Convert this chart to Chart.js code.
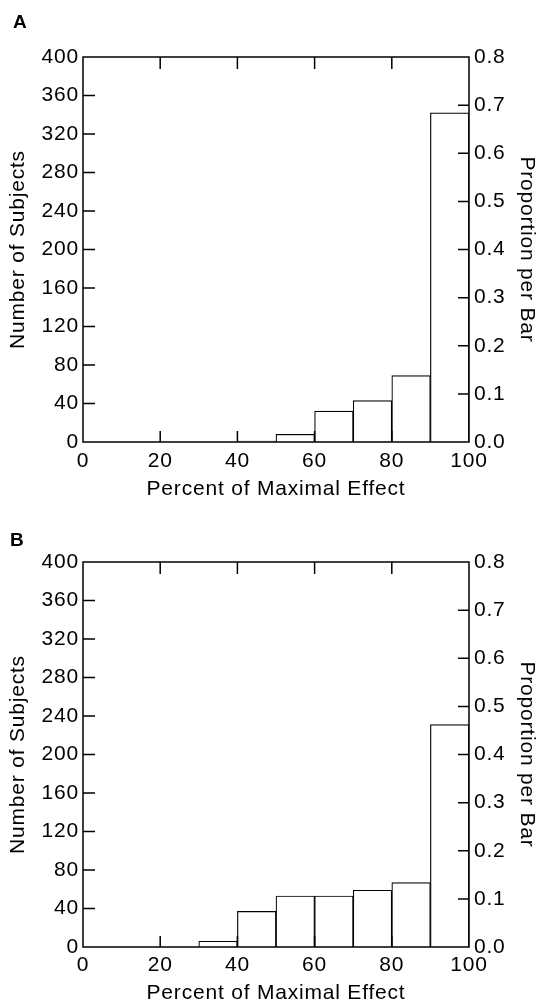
<!DOCTYPE html>
<html>
<head>
<meta charset="utf-8">
<title>Percent of Maximal Effect</title>
<script src="https://cdn.jsdelivr.net/npm/chart.js@4.4.1/dist/chart.umd.min.js"></script>
<style>
  html, body { margin: 0; padding: 0; background: #fff; }
  body { width: 537px; height: 1005px; position: relative; overflow: hidden; font-family: 'Liberation Sans', Arial, sans-serif; }
  .panel { position: absolute; left: 0; width: 537px; }
  .tag { position: absolute; font-weight: bold; font-size: 19px; line-height: 1; color: #000; }
</style>
</head>
<body>
<div class="panel" style="top:0;height:500px"><canvas id="chartA" width="537" height="500"></canvas></div>
<div class="panel" style="top:500px;height:505px"><canvas id="chartB" width="537" height="505"></canvas></div>
<div class="tag" style="left:13px;top:12px">A</div>
<div class="tag" style="left:10px;top:530px">B</div>
<script>
// histogram bins, 10% wide, given by their centres
const binCenters = [5, 15, 25, 35, 45, 55, 65, 75, 85, 95];
const subjectsA = [0, 0, 0, 0, 1, 8, 32, 43, 69, 342];
const subjectsB = [0, 0, 0, 6, 37, 53, 53, 59, 67, 231];

const percentTicks = [0, 20, 40, 60, 80, 100];
const countTicks = [0, 40, 80, 120, 160, 200, 240, 280, 320, 360, 400];
const proportionTicks = [0, 0.1, 0.2, 0.3, 0.4, 0.5, 0.6, 0.7, 0.8];

const FONT = { family: "'Liberation Sans', Arial, sans-serif", size: 21, lineHeight: 1.2 };
const TITLE_FONT = { family: "'Liberation Sans', Arial, sans-serif", size: 21, lineHeight: 1 };

// frame + ticks pointing into the plot, like the original
const frameTicks = {
  id: 'frameTicks',
  beforeDraw(chart) {
    chart.ctx.letterSpacing = '0.8px';
  },
  afterDatasetsDraw(chart) {
    const { ctx, chartArea: a, scales } = chart;
    ctx.save();
    ctx.strokeStyle = '#000';
    ctx.lineWidth = 1.5;
    ctx.beginPath();
    scales.x.ticks.forEach(t => {
      if (t.value <= 0 || t.value >= 100) return;
      const px = scales.x.getPixelForValue(t.value);
      ctx.moveTo(px, a.top); ctx.lineTo(px, a.top + 12);
      ctx.moveTo(px, a.bottom); ctx.lineTo(px, a.bottom - 11);
    });
    scales.y.ticks.forEach(t => {
      if (t.value <= 0 || t.value >= 400) return;
      const py = scales.y.getPixelForValue(t.value);
      ctx.moveTo(a.left, py); ctx.lineTo(a.left + 12, py);
    });
    scales.y1.ticks.forEach(t => {
      if (t.value <= 0 || t.value >= 0.8) return;
      const py = scales.y1.getPixelForValue(t.value);
      ctx.moveTo(a.right, py); ctx.lineTo(a.right - 11, py);
    });
    ctx.rect(a.left, a.top, a.right - a.left, a.bottom - a.top);
    ctx.stroke();
    ctx.restore();
  }
};

function makeChart(id, counts, topPad, xHeight, xTickPad, xTitlePad) {
  new Chart(document.getElementById(id), {
    type: 'bar',
    data: {
      datasets: [{
        data: binCenters.map((c, i) => ({ x: c, y: counts[i] })),
        backgroundColor: '#fff',
        borderColor: '#000',
        borderWidth: 1.2,
        barPercentage: 1,
        categoryPercentage: 1
      }]
    },
    options: {
      responsive: false,
      animation: false,
      devicePixelRatio: 1,
      layout: { padding: { top: topPad, left: 0, right: 0, bottom: 0 } },
      plugins: { legend: { display: false }, tooltip: { enabled: false } },
      scales: {
        x: {
          type: 'linear',
          min: 0, max: 100,
          offset: false,
          grid: { display: false, drawTicks: false },
          border: { display: false },
          afterBuildTicks: s => { s.ticks = percentTicks.map(v => ({ value: v })); },
          afterFit: s => { s.height = xHeight; },
          ticks: { color: '#000', font: FONT, padding: xTickPad, maxRotation: 0, autoSkip: false },
          title: { display: true, text: 'Percent of Maximal Effect', color: '#000', font: TITLE_FONT, padding: { top: 0, bottom: xTitlePad } }
        },
        y: {
          position: 'left',
          min: 0, max: 400,
          grid: { display: false, drawTicks: false },
          border: { display: false },
          afterBuildTicks: s => { s.ticks = countTicks.map(v => ({ value: v })); },
          afterFit: s => { s.width = 83; },
          ticks: { color: '#000', font: FONT, padding: 4 },
          title: { display: true, text: 'Number of Subjects', color: '#000', font: TITLE_FONT, padding: { top: 8, bottom: 0 } }
        },
        y1: {
          position: 'right',
          min: 0, max: 0.8,
          grid: { display: false, drawTicks: false },
          border: { display: false },
          afterBuildTicks: s => { s.ticks = proportionTicks.map(v => ({ value: v })); },
          afterFit: s => { s.width = 68; },
          ticks: { color: '#000', font: FONT, padding: 5, callback: v => Number(v).toFixed(1) },
          title: { display: true, text: 'Proportion per Bar', color: '#000', font: TITLE_FONT, padding: { top: 0, bottom: 0 } }
        }
      }
    },
    plugins: [frameTicks]
  });
}

makeChart('chartA', subjectsA, 57, 58, 7, 0);
makeChart('chartB', subjectsB, 62, 58, 6, 1);
</script>
</body>
</html>
